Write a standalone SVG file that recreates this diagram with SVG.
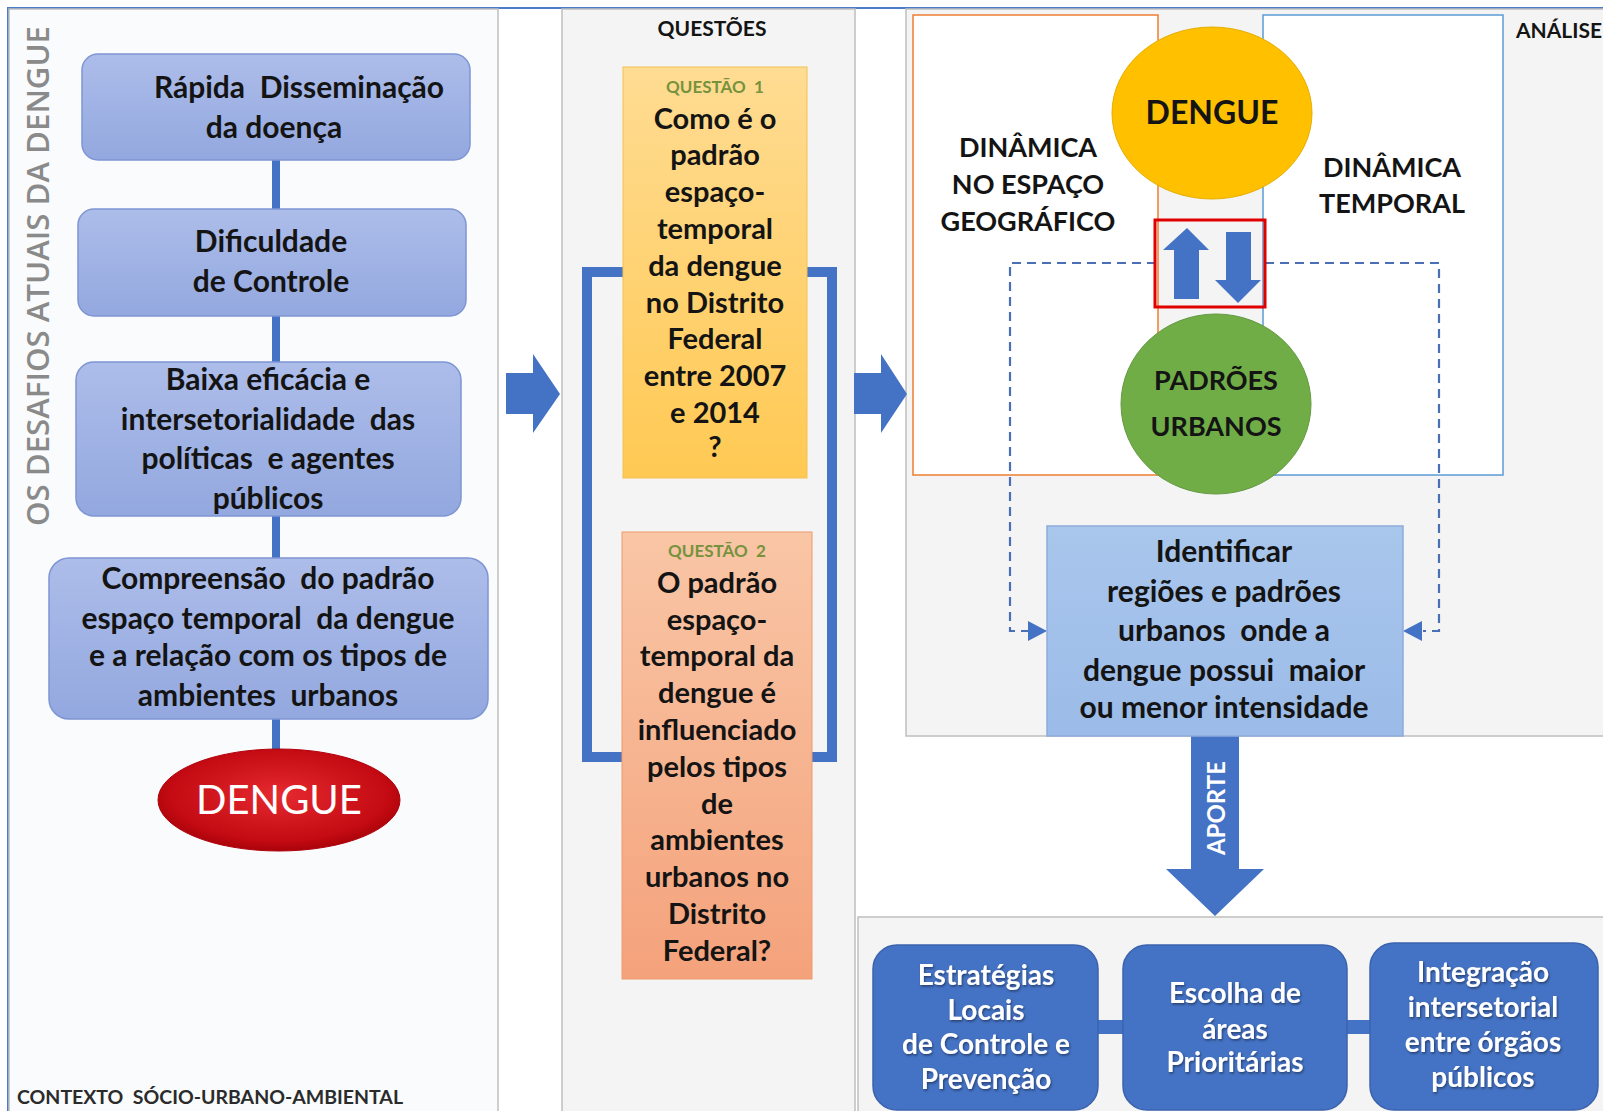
<svg xmlns="http://www.w3.org/2000/svg" width="1603" height="1111" viewBox="0 0 1603 1111">
<defs>
<style>
.t{font-family:Lato,"Open Sans","Liberation Sans",sans-serif;font-weight:700;text-anchor:middle;white-space:pre}
.lb{font-size:30px;fill:#141414}
.q{font-size:29px;fill:#141414}
.id{font-size:30px;fill:#141414}
.ql{font-size:17px;fill:#76923c}
.an{font-size:27px;fill:#141414}
.bb{font-size:28px;fill:#ffffff}
.panel{fill:#f4f4f4;stroke:#bfbfbf;stroke-width:1.5}
.lbox{fill:url(#gLeft);stroke:#7f95d3;stroke-width:1.5}
.bbox{fill:#4472c4;stroke:#3b63ad;stroke-width:1.5}
.blue{fill:#4472c4}
.dash{fill:none;stroke:#4a6fb5;stroke-width:2.2;stroke-dasharray:9 6}
</style>
<linearGradient id="gLeft" x1="0" y1="0" x2="0" y2="1"><stop offset="0" stop-color="#adbdea"/><stop offset="1" stop-color="#93a8df"/></linearGradient>
<linearGradient id="gQ1" x1="0" y1="0" x2="0" y2="1"><stop offset="0" stop-color="#ffdc93"/><stop offset="1" stop-color="#ffc953"/></linearGradient>
<linearGradient id="gQ2" x1="0" y1="0" x2="0" y2="1"><stop offset="0" stop-color="#f9c6a6"/><stop offset="1" stop-color="#f4a27b"/></linearGradient>
<linearGradient id="gId" x1="0" y1="0" x2="0" y2="1"><stop offset="0" stop-color="#a9c6ec"/><stop offset="1" stop-color="#9bbbe8"/></linearGradient>
<radialGradient id="gRed" cx="0.5" cy="0.45" r="0.6"><stop offset="0" stop-color="#e52a30"/><stop offset="0.75" stop-color="#c40a12"/><stop offset="1" stop-color="#9c0006"/></radialGradient>
<filter id="sh" x="-10%" y="-10%" width="120%" height="130%"><feDropShadow dx="1" dy="1.5" stdDeviation="1" flood-color="#000" flood-opacity="0.45"/></filter>
</defs>
<rect x="0" y="0" width="1603" height="1111" fill="#ffffff"/>
<g id="frames">
<rect x="8" y="8" width="1620" height="1130" fill="none" stroke="#4a7cc9" stroke-width="2"/>
<rect x="9" y="9" width="489" height="1120" fill="#f9fbfd" stroke="#bfbfbf" stroke-width="1.5"/>
<rect class="panel" x="562" y="9" width="293" height="1120"/>
<rect class="panel" x="906" y="9" width="720" height="727"/>
<rect class="panel" x="858" y="917" width="760" height="220"/>
<rect x="913" y="15" width="245" height="460" fill="#ffffff" stroke="#ed7d31" stroke-width="1.5"/>
<rect x="1263" y="15" width="240" height="460" fill="#ffffff" stroke="#5b9bd5" stroke-width="1.5"/>
</g>
<g id="labels">
<text x="37" y="276" transform="rotate(-90 37 276)" dominant-baseline="central" style="font-family:'Open Sans',Lato,sans-serif;font-weight:600;font-size:31px;fill:#8a8a8a;text-anchor:middle" textLength="500" lengthAdjust="spacingAndGlyphs">OS DESAFIOS ATUAIS DA DENGUE</text>
<text x="17" y="1104" style="font-family:Lato,'Open Sans',sans-serif;font-weight:700;font-size:19.5px;fill:#2b2b2b;white-space:pre">CONTEXTO  SÓCIO-URBANO-AMBIENTAL</text>
<text class="t" x="712" y="36" style="font-size:21px;fill:#141414">QUESTÕES</text>
<text x="1516" y="38" style="font-family:Lato,'Open Sans',sans-serif;font-weight:700;font-size:21px;fill:#141414">ANÁLISE</text>
</g>
<g id="connectors">
<rect class="blue" x="272" y="158" width="8" height="595"/>
<rect x="587" y="272" width="245" height="485" fill="none" stroke="#4472c4" stroke-width="10"/>
<path class="blue" d="M506,373 H533 V354 L560,394 L533,433 V414 H506 Z"/>
<path class="blue" d="M854,373 H881 V354 L907,394 L881,433 V414 H854 Z"/>
<path class="dash" d="M1156,263 H1010 V631 H1028"/>
<path class="dash" d="M1265,263 H1439 V631 H1423"/>
<path class="blue" d="M1028,621 L1047,631 L1028,641 Z"/>
<path class="blue" d="M1422,621 L1403,631 L1422,641 Z"/>
<path class="blue" d="M1191,736 H1239 V869 H1264 L1215,916 L1166,869 H1191 Z"/>
<text x="1215" y="808" transform="rotate(-90 1215 808)" dominant-baseline="central" style="font-family:Lato,'Open Sans',sans-serif;font-weight:700;font-size:24px;fill:#ffffff;text-anchor:middle">APORTE</text>
<rect class="blue" x="1097" y="1020" width="27" height="14"/>
<rect class="blue" x="1346" y="1020" width="25" height="14"/>
</g>
<g id="n-rapida">
<rect class="lbox" x="82" y="54" width="388" height="106" rx="16"/>
<text class="t lb" x="299" y="98">Rápida  Disseminação</text>
<text class="t lb" x="274" y="138">da doença</text>
</g>
<g id="n-dificuldade">
<rect class="lbox" x="78" y="209" width="388" height="107" rx="16"/>
<text class="t lb" x="271" y="252">Dificuldade</text>
<text class="t lb" x="271" y="292">de Controle</text>
</g>
<g id="n-baixa">
<rect class="lbox" x="76" y="362" width="385" height="154" rx="18"/>
<text class="t lb" x="268" y="390">Baixa eficácia e</text>
<text class="t lb" x="268" y="430">intersetorialidade  das</text>
<text class="t lb" x="268" y="469">políticas  e agentes</text>
<text class="t lb" x="268" y="509">públicos</text>
</g>
<g id="n-compreensao">
<rect class="lbox" x="49" y="558" width="439" height="161" rx="20"/>
<text class="t lb" x="268" y="589">Compreensão  do padrão</text>
<text class="t lb" x="268" y="629">espaço temporal  da dengue</text>
<text class="t lb" x="268" y="666">e a relação com os tipos de</text>
<text class="t lb" x="268" y="706">ambientes  urbanos</text>
</g>
<g id="n-dengue-red">
<ellipse cx="279" cy="800" rx="121" ry="51" fill="url(#gRed)" stroke="#b0000a" stroke-width="1"/>
<text x="279" y="814" style="font-family:Lato,'Open Sans',sans-serif;font-size:40px;fill:#ffffff;text-anchor:middle">DENGUE</text>
</g>
<g id="n-questao1">
<rect x="623" y="67" width="184" height="411" fill="url(#gQ1)" stroke="#f2c14e" stroke-width="1"/>
<text class="t ql" x="715" y="93">QUESTÃO  1</text>
<text class="t q" x="715" y="129">Como é o</text>
<text class="t q" x="715" y="165">padrão</text>
<text class="t q" x="715" y="202">espaço-</text>
<text class="t q" x="715" y="239">temporal</text>
<text class="t q" x="715" y="276">da dengue</text>
<text class="t q" x="715" y="313">no Distrito</text>
<text class="t q" x="715" y="349">Federal</text>
<text class="t q" x="715" y="386">entre 2007</text>
<text class="t q" x="715" y="423">e 2014</text>
<text class="t q" x="715" y="457">?</text>
</g>
<g id="n-questao2">
<rect x="622" y="532" width="190" height="447" fill="url(#gQ2)" stroke="#ee9a6e" stroke-width="1"/>
<text class="t ql" x="717" y="557">QUESTÃO  2</text>
<text class="t q" x="717" y="593">O padrão</text>
<text class="t q" x="717" y="630">espaço-</text>
<text class="t q" x="717" y="666">temporal da</text>
<text class="t q" x="717" y="703">dengue é</text>
<text class="t q" x="717" y="740">influenciado</text>
<text class="t q" x="717" y="777">pelos tipos</text>
<text class="t q" x="717" y="814">de</text>
<text class="t q" x="717" y="850">ambientes</text>
<text class="t q" x="717" y="887">urbanos no</text>
<text class="t q" x="717" y="924">Distrito</text>
<text class="t q" x="717" y="961">Federal?</text>
</g>
<g id="n-dinamica-espaco">
<text class="t an" x="1028" y="157">DINÂMICA</text>
<text class="t an" x="1028" y="194">NO ESPAÇO</text>
<text class="t an" x="1028" y="231">GEOGRÁFICO</text>
</g>
<g id="n-dinamica-temporal">
<text class="t an" x="1392" y="177">DINÂMICA</text>
<text class="t an" x="1392" y="213">TEMPORAL</text>
</g>
<g id="n-dengue">
<ellipse cx="1212" cy="113" rx="100" ry="86" fill="#ffc000" stroke="#e6ad00" stroke-width="1"/>
<text class="t" x="1212" y="124" style="font-size:32px;fill:#141414">DENGUE</text>
</g>
<g id="n-relacao">
<rect x="1155" y="220" width="110" height="87" fill="none" stroke="#e00000" stroke-width="3"/>
<path class="blue" d="M1187,228 L1209,250 H1199 V299 H1174 V250 H1163 Z"/>
<path class="blue" d="M1226,232 H1251 V280 H1261 L1238,303 L1215,280 H1226 Z"/>
</g>
<g id="n-padroes">
<ellipse cx="1216" cy="404" rx="95" ry="90" fill="#70ad47" stroke="#63993e" stroke-width="1"/>
<text class="t an" x="1216" y="390">PADRÕES</text>
<text class="t an" x="1216" y="436">URBANOS</text>
</g>
<g id="n-identificar">
<rect x="1047" y="526" width="356" height="210" fill="url(#gId)" stroke="#8eaadb" stroke-width="1.5"/>
<text class="t id" x="1224" y="562">Identificar</text>
<text class="t id" x="1224" y="602">regiões e padrões</text>
<text class="t id" x="1224" y="641">urbanos  onde a</text>
<text class="t id" x="1224" y="681">dengue possui  maior</text>
<text class="t id" x="1224" y="718">ou menor intensidade</text>
</g>
<g id="n-estrategias">
<rect class="bbox" x="873" y="945" width="225" height="165" rx="24"/>
<g filter="url(#sh)">
<text class="t bb" x="986" y="985">Estratégias</text>
<text class="t bb" x="986" y="1020">Locais</text>
<text class="t bb" x="986" y="1054">de Controle e</text>
<text class="t bb" x="986" y="1089">Prevenção</text>
</g>
</g>
<g id="n-escolha">
<rect class="bbox" x="1123" y="945" width="224" height="165" rx="24"/>
<g filter="url(#sh)">
<text class="t bb" x="1235" y="1003">Escolha de</text>
<text class="t bb" x="1235" y="1039">áreas</text>
<text class="t bb" x="1235" y="1072">Prioritárias</text>
</g>
</g>
<g id="n-integracao">
<rect class="bbox" x="1370" y="943" width="228" height="167" rx="24"/>
<g filter="url(#sh)">
<text class="t bb" x="1483" y="982">Integração</text>
<text class="t bb" x="1483" y="1017">intersetorial</text>
<text class="t bb" x="1483" y="1052">entre órgãos</text>
<text class="t bb" x="1483" y="1087">públicos</text>
</g>
</g>
</svg>
